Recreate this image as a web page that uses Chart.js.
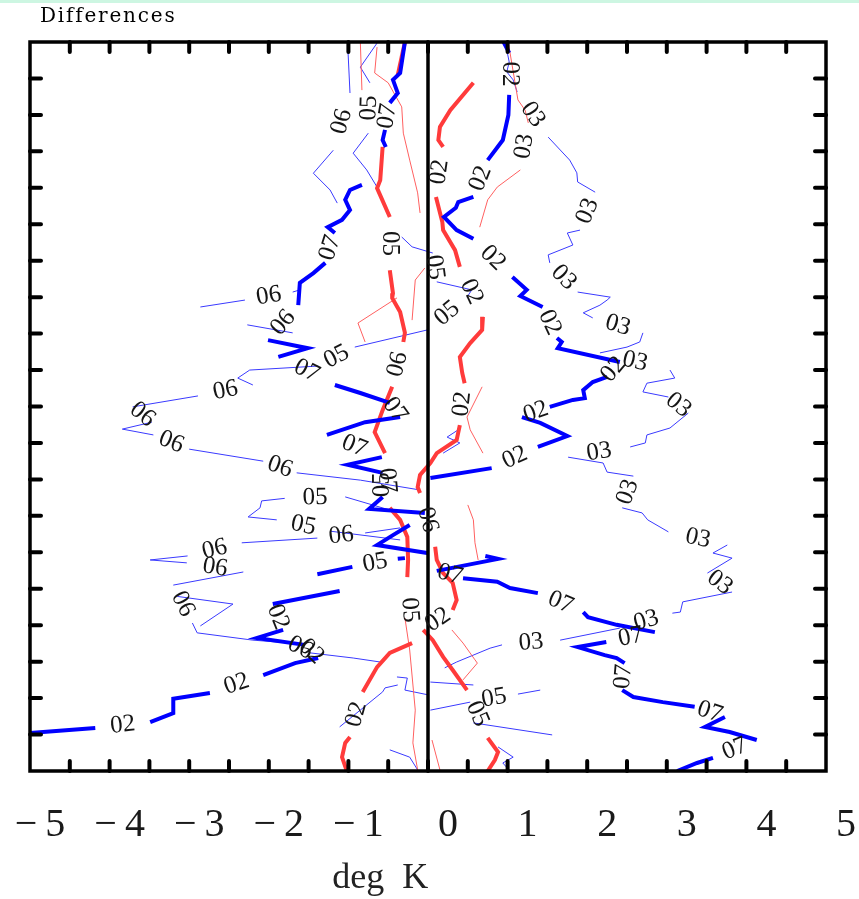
<!DOCTYPE html>
<html>
<head>
<meta charset="utf-8">
<script src="https://cdn.jsdelivr.net/npm/chart.js@4.4.1/dist/chart.umd.min.js"></script>
<style>
  html, body { margin: 0; padding: 0; background: #fff; }
  #wrap { width: 859px; height: 899px; position: relative; }
  #strip { position: absolute; left: 0; top: 0; width: 859px; height: 3px; background: #cdf6e2; }
</style>
</head>
<body>
<div id="wrap"><canvas id="myChart" width="859" height="899"></canvas><div id="strip"></div></div>
<script>
// x = difference in deg K, y = level index (0 bottom .. 20 top); null = gap holding a label
const xTicks = [-5, -4, -3, -2, -1, 0, 1, 2, 3, 4, 5];

// thick blue
const tb02a = [[0.95,20.0],[1.02,19.70],null,[1.02,18.55],[1.01,18.00],[0.94,17.31],[0.75,16.76],null,[0.57,15.75],[0.38,15.61],[0.35,15.45],[0.20,15.20],[0.36,14.84],[0.57,14.60],null,[1.06,13.55],[1.24,13.20],[1.16,13.03],[1.44,12.73],null,[1.62,11.88],[1.68,11.77],[1.63,11.60],[2.41,11.22],null,[2.25,10.81],[2.07,10.67],[1.95,10.45],[1.97,10.23],[1.82,10.18],[1.53,9.99],null,[1.18,9.71],[1.41,9.55],[1.75,9.19],[1.38,8.89],null,[0.80,8.31],[0.03,8.04]];
const tb02aTags = ["02","02","02","02","02","02","02"];
const tb02b = [[-1.11,4.94],[-1.95,4.58],null,[-1.82,3.87],[-2.15,3.65],[-1.55,3.46],null,[-1.38,3.10],[-1.67,2.96],[-2.07,2.63],null,[-2.74,2.14],[-3.20,1.98],[-3.20,1.59],[-3.49,1.34],null,[-4.18,1.18],[-5.0,1.04]];
const tb02bTags = ["02","02","02","02"];
const tb07a = [[3.13,0],[3.38,0.22],[3.58,0.36],null,[4.13,0.85],[3.79,1.07],[3.48,1.21],[3.73,1.48],null,[3.35,1.76],[2.95,1.89],[2.58,2.03],[2.44,2.22],null,[2.47,2.96],[2.37,3.10],[2.22,3.18],[1.88,3.40],[2.24,3.54],null,[2.85,3.81],[2.37,4.01],[2.01,4.22],[1.95,4.36],null,[1.38,4.88],[1.03,5.02],[0.87,5.19],[0.44,5.29],null,[0.11,5.49],[0.88,5.82],[0.72,5.90]];
const tb07aTags = ["07","07","07","07","07","07"];
const tb07b = [[-0.04,7.08],[-0.74,7.19],[-0.57,7.52],null,[-0.57,8.18],[-1.01,8.40],[-0.58,8.61],null,[-1.27,9.22],[-0.79,9.57],[-0.35,9.71],null,[-0.48,10.10],[-0.85,10.37],[-1.17,10.59],null,[-1.88,11.36],[-1.51,11.60],[-2.01,11.82],null,[-1.63,12.78],[-1.61,13.39],[-1.44,13.66],[-1.29,13.94],null,[-1.17,14.76],[-1.26,14.92],[-1.08,15.12],[-0.98,15.39],[-1.04,15.67],[-0.98,15.94],[-0.83,16.08]];
const tb07bTags = ["05","07","07","07","06","07"];
const tb07c = [[-0.29,20.0],[-0.35,19.15],[-0.44,18.96],[-0.38,18.60],[-0.48,18.33],null,[-0.54,17.59],[-0.57,17.31],[-0.53,17.12]];
const tb07cTags = ["07"];
const tb06 = [[-0.01,5.98],[-0.64,6.20],[-0.44,6.47],[-0.23,6.75]];
const tb05 = [[-1.39,5.40],[-0.95,5.60],null,[-0.38,5.82],[-0.29,5.84]];
const tb05Tags = ["05"];

// thick red
const tr0 = [[-0.29,20.0],[-0.38,19.09]];
const trL = [[-0.57,17.12],[-0.60,16.21],[-0.64,15.99],[-0.48,15.20],null,[-0.48,13.74],[-0.44,13.11],[-0.45,12.98],[-0.35,12.59],[-0.29,12.02],[-0.31,11.77],null,[-0.45,10.54],[-0.57,9.90],[-0.67,9.30],[-0.54,8.72],null,[-0.48,7.22],[-0.35,6.89],[-0.26,6.42],[-0.25,5.79],[-0.26,5.32],null,[-0.20,3.51],[-0.48,3.24],[-0.64,2.85],[-0.82,2.17],null,[-0.98,0.93],[-1.04,0.77],[-1.08,0.38],[-1.02,0]];
const trLTags = ["05","06","07","05","02"];
const trR = [[0.57,18.88],[0.28,18.13],[0.15,17.67],[0.13,17.31],[0.19,17.12],null,[0.10,15.75],[0.18,15.06],[0.19,14.84],[0.34,14.29],[0.40,13.83],null,[0.69,12.46],[0.68,12.10],[0.53,11.74],[0.40,11.36],[0.43,10.92],[0.46,10.64],null,[0.40,9.49],[0.36,9.08],[0.11,8.72],[0.03,8.45],[-0.10,8.12],[-0.13,7.79],[-0.10,7.63],null,[0.09,6.15],[0.11,5.79],[0.19,5.43],[0.31,5.16],[0.36,4.69],[0.31,4.42],null,[-0.06,3.87],[0.06,3.59],[0.19,3.13],[0.31,2.77],[0.49,2.22],null,[0.75,0.91],[0.88,0.52],[0.84,0.30],[0.75,0]];
const trRTags = ["02","02","02","06","02","05"];

// thin red
const nrA = [[1.01,19.97],[1.13,18.41],[1.22,18.13],[1.26,17.78],null,[1.16,16.49],[0.87,16.02],[0.75,15.67],[0.65,14.92]];
const nrATags = ["03"];
const nrB = [[-0.85,20.0],[-0.83,18.68]];
const nrC = [[-0.64,19.86],[-0.67,19.15],[-0.50,18.88],[-0.33,18.22],[-0.31,17.50],[-0.23,16.76],[-0.13,15.86],[-0.10,15.31]];
const nrD = [[-0.39,12.98],[-0.88,12.29],[-0.79,11.77]];
const nrE = [[-0.04,13.80],[-0.16,13.47],[-0.20,12.37]];
const nrF = [[0.68,10.54],[0.49,9.71],[0.53,9.36],[0.69,8.72]];
const nrG = [[0.50,7.30],[0.57,6.89],[0.59,6.26],[0.63,5.79]];
const nrH = [[0.30,3.87],[0.44,3.51],[0.59,3.05],[0.62,2.96],[0.44,2.50]];
const nrI = [[-0.29,4.20],[-0.23,3.32],[-0.16,1.67],[-0.19,0.77],[-0.13,0.03]];
const nrJ = [[0.05,0.85],[0.15,0.03]];

// thin blue
const nbTop1 = [[-1.01,19.97],[-0.98,18.60],null,[-1.19,17.03],[-1.44,16.40],[-1.23,15.94],[-1.14,15.58]];
const nbTop1Tags = ["06"];
const nbTop2 = [[-0.64,19.97],[-0.85,19.31],[-0.73,18.88],null,[-0.75,17.50],[-0.94,16.95],[-0.77,16.49],[-0.64,16.02],[-0.57,15.67]];
const nbTop2Tags = ["05"];
const nb03 = [[0.97,20.0],[1.02,19.45],[0.99,19.18],[1.07,18.96],[1.12,18.63],null,[1.51,17.39],[1.78,16.76],[1.87,16.41],[1.88,16.16],[2.10,15.88],null,[1.91,14.84],[1.75,14.76],[1.82,14.43],[1.51,14.16],[1.53,13.94],null,[1.88,13.14],[2.29,13.00],[2.25,12.92],[2.16,12.78],[1.95,12.57],[2.07,12.43],null,[2.70,12.02],[2.66,11.77],[2.50,11.63],[2.16,11.47],null,[3.04,11.00],[3.10,10.78],[2.75,10.64],[2.70,10.40],[3.02,10.26],null,[3.27,9.82],[3.04,9.41],[2.75,9.22],[2.73,9.00],[2.54,8.89],null,[1.76,8.61],[2.20,8.45],[2.25,8.20],[2.58,8.09],null,[2.44,7.22],[2.69,7.08],[2.76,6.89],[3.02,6.56],null,[3.76,6.20],[3.58,5.98],[3.82,5.84],[3.51,5.43],null,[3.82,4.91],[3.20,4.64],[3.17,4.36],[3.07,4.33],null,[2.41,3.92],[1.66,3.59],null,[0.93,3.46],[0.78,3.37],[0.36,2.99],[0.21,2.83]];
const nb03Tags = ["03","03","03","03","03","03","03","03","03","03","03","03"];
const nbMain = [[-0.33,14.65],[-0.20,14.38],[0.06,14.21],null,[0.11,13.42],[0.55,13.20],[0.49,13.00],null,[-0.01,12.10],[-0.92,11.63],null,[-1.38,11.11],[-2.24,11.00],[-2.39,10.78],[-2.20,10.59],null,[-2.89,10.29],[-3.71,9.99],null,[-3.47,9.57],[-3.84,9.38],[-3.45,9.22],null,[-3.00,8.83],[-2.07,8.50],null,[-1.65,8.18],[-0.85,7.98],[-0.10,7.71]];
const nbMainTags = ["05","05","05","06","06","06","06"];
const nbL2 = [[-0.35,6.67],[-0.79,6.53],null,[-1.39,6.39],[-2.34,6.26],null,[-3.02,5.90],[-3.49,5.79],[-3.03,5.71],null,[-2.32,5.46],[-3.20,5.10],null,[-2.96,4.06],[-2.90,3.79],[-2.20,3.59],[-1.73,3.51],null,[-1.48,3.24],[-0.94,3.10],[-0.60,2.99]];
const nbL2Tags = ["06","06","06","06","06"];
const nbL3 = [[-0.48,7.16],[-1.04,7.52],null,[-1.80,7.48],[-2.09,7.41],[-2.11,7.22],[-2.26,6.97],[-1.90,6.89],null,[-1.23,6.58],[-0.35,6.34]];
const nbL3Tags = ["05","05"];
const nbL4 = [[-2.86,12.73],[-2.30,12.92],null,[-1.70,13.14],[-1.61,13.20]];
const nbL4Tags = ["06"];
const nbL5 = [[-2.27,12.24],[-1.70,12.02]];
const nbL6 = [[-3.15,4.79],[-2.45,4.58],[-2.86,3.98]];
const nbC1 = [[0.38,9.36],[0.24,9.16],[0.40,9.00],[0.19,8.72]];
const nbC2 = [[0.03,1.67],[0.53,1.89],null,[1.13,2.11],[1.41,2.22]];
const nbC2Tags = ["05"];
const nbC3 = [[0.57,1.32],[1.56,0.99]];
const nbC4 = [[0.88,0.66],[1.07,0.38],[0.94,0.22],[1.03,0]];
const nbC5 = [[-1.11,1.21],[-0.57,2.17],[-0.54,2.28],[-0.38,2.36]];
const nbC6 = [[-0.48,0.58],[-0.23,0.38],[-0.13,0.03]];
const nbC7 = [[-0.39,2.58],[-0.26,2.55],[-0.29,2.22],[0,2.09]];
const nbC8 = [[0.03,2.44],[0.57,2.36]];

const zeroLine = [[0,0],[0,20]];

const BLUE = '#0000ff', BLUE_THIN = '#3a3aff', RED = '#ff3b3b', RED_THIN = '#ff6060';

function mk(pts, tags, color, width) {
    return {
        data: pts.map(p => p ? {x: p[0], y: p[1]} : {x: null, y: null}),
        tags: tags || [],
        borderColor: color,
        borderWidth: width,
        showLine: true,
        pointRadius: 0,
        spanGaps: false,
        tension: 0,
        fill: false
    };
}

// first dataset ends up on top
const datasets = [
    mk(zeroLine, null, '#000', 3.5),
    mk(tb02a, tb02aTags, BLUE, 4), mk(tb02b, tb02bTags, BLUE, 4),
    mk(tb07a, tb07aTags, BLUE, 4), mk(tb07b, tb07bTags, BLUE, 4), mk(tb07c, tb07cTags, BLUE, 4),
    mk(tb06, null, BLUE, 4), mk(tb05, tb05Tags, BLUE, 4),
    mk(tr0, null, RED, 4), mk(trL, trLTags, RED, 4), mk(trR, trRTags, RED, 4),
    mk(nrA, nrATags, RED_THIN, 1), mk(nrB, null, RED_THIN, 1), mk(nrC, null, RED_THIN, 1),
    mk(nrD, null, RED_THIN, 1), mk(nrE, null, RED_THIN, 1), mk(nrF, null, RED_THIN, 1),
    mk(nrG, null, RED_THIN, 1), mk(nrH, null, RED_THIN, 1), mk(nrI, null, RED_THIN, 1), mk(nrJ, null, RED_THIN, 1),
    mk(nbTop1, nbTop1Tags, BLUE_THIN, 1), mk(nbTop2, nbTop2Tags, BLUE_THIN, 1),
    mk(nb03, nb03Tags, BLUE_THIN, 1), mk(nbMain, nbMainTags, BLUE_THIN, 1),
    mk(nbL2, nbL2Tags, BLUE_THIN, 1), mk(nbL3, nbL3Tags, BLUE_THIN, 1),
    mk(nbL4, nbL4Tags, BLUE_THIN, 1), mk(nbL5, null, BLUE_THIN, 1), mk(nbL6, null, BLUE_THIN, 1),
    mk(nbC1, null, BLUE_THIN, 1), mk(nbC2, nbC2Tags, BLUE_THIN, 1), mk(nbC3, null, BLUE_THIN, 1),
    mk(nbC4, null, BLUE_THIN, 1), mk(nbC5, null, BLUE_THIN, 1), mk(nbC6, null, BLUE_THIN, 1),
    mk(nbC7, null, BLUE_THIN, 1), mk(nbC8, null, BLUE_THIN, 1)
];

/* frame, inward ticks, curve labels and titles */
const decor = {
    id: 'decor',
    afterDatasetsDraw(chart) {
        const ctx = chart.ctx, xs = chart.scales.x, ys = chart.scales.y, a = chart.chartArea;
        ctx.save();

        // labels sitting in the gaps of the curves
        ctx.font = '25px "Liberation Serif"';
        ctx.fillStyle = '#151515';
        ctx.textAlign = 'center';
        ctx.textBaseline = 'middle';
        chart.data.datasets.forEach(ds => {
            let k = 0;
            ds.data.forEach((p, i) => {
                if (p.y !== null || !ds.tags[k]) return;
                const p0 = ds.data[i - 1], p1 = ds.data[i + 1];
                const x0 = xs.getPixelForValue(p0.x), y0 = ys.getPixelForValue(p0.y);
                const x1 = xs.getPixelForValue(p1.x), y1 = ys.getPixelForValue(p1.y);
                let ang = Math.atan2(y1 - y0, x1 - x0);
                if (ang > Math.PI / 2) ang -= Math.PI;
                if (ang < -Math.PI / 2) ang += Math.PI;
                ctx.save();
                ctx.translate((x0 + x1) / 2, (y0 + y1) / 2);
                ctx.rotate(ang);
                ctx.fillText(ds.tags[k], 0, 0);
                ctx.restore();
                k++;
            });
        });

        // frame
        ctx.strokeStyle = '#000';
        ctx.lineWidth = 3.5;
        ctx.strokeRect(a.left, a.top, a.right - a.left, a.bottom - a.top);

        // inward tick marks
        ctx.lineWidth = 4;
        ctx.lineCap = 'round';
        ctx.beginPath();
        xs.ticks.forEach(t => {
            if (t.value <= xs.min || t.value >= xs.max) return;
            const px = xs.getPixelForValue(t.value);
            ctx.moveTo(px, a.bottom); ctx.lineTo(px, a.bottom - 10);
            ctx.moveTo(px, a.top); ctx.lineTo(px, a.top + 10);
        });
        ys.ticks.forEach(t => {
            if (t.value <= ys.min || t.value >= ys.max) return;
            const py = ys.getPixelForValue(t.value);
            ctx.moveTo(a.left, py); ctx.lineTo(a.left + 11, py);
            ctx.moveTo(a.right, py); ctx.lineTo(a.right - 11, py);
        });
        ctx.stroke();

        // axis title and panel title
        ctx.fillStyle = '#222';
        ctx.textAlign = 'center';
        ctx.textBaseline = 'alphabetic';
        ctx.font = '36px "Liberation Serif"';
        ctx.fillText('deg  K', xs.getPixelForValue(-0.6), 888);
        ctx.textAlign = 'left';
        ctx.fillStyle = '#000';
        ctx.font = '20px "DejaVu Serif"';
        ctx.letterSpacing = '1.8px';
        ctx.fillText('Differences', 40, 22);
        ctx.restore();
    }
};

var ctx = document.getElementById('myChart').getContext('2d');
var chart = new Chart(ctx, {
    type: 'scatter',
    data: { datasets: datasets },
    options: {
        responsive: false,
        animation: false,
        events: [],
        layout: { padding: { left: 30, right: 33, top: 42, bottom: 0 } },
        plugins: { legend: { display: false }, tooltip: { enabled: false } },
        scales: {
            x: {
                type: 'linear', min: -5, max: 5,
                afterFit: s => { s.height = 128; s.paddingLeft = 0; s.paddingRight = 0; },
                grid: { display: false, drawTicks: false },
                border: { display: false },
                ticks: {
                    stepSize: 0.5, autoSkip: false, maxRotation: 0, padding: 30, labelOffset: 10,
                    color: '#1a1a1a',
                    font: { family: '"Liberation Serif"', size: 40 },
                    callback: v => xTicks.includes(v) ? (v < 0 ? '\u2212\u2009' + Math.abs(v) : '\u2002' + v) : ''
                }
            },
            y: {
                type: 'linear', min: 0, max: 20, display: false,
                ticks: { stepSize: 1 }
            }
        }
    },
    plugins: [decor]
});
</script>
</body>
</html>
